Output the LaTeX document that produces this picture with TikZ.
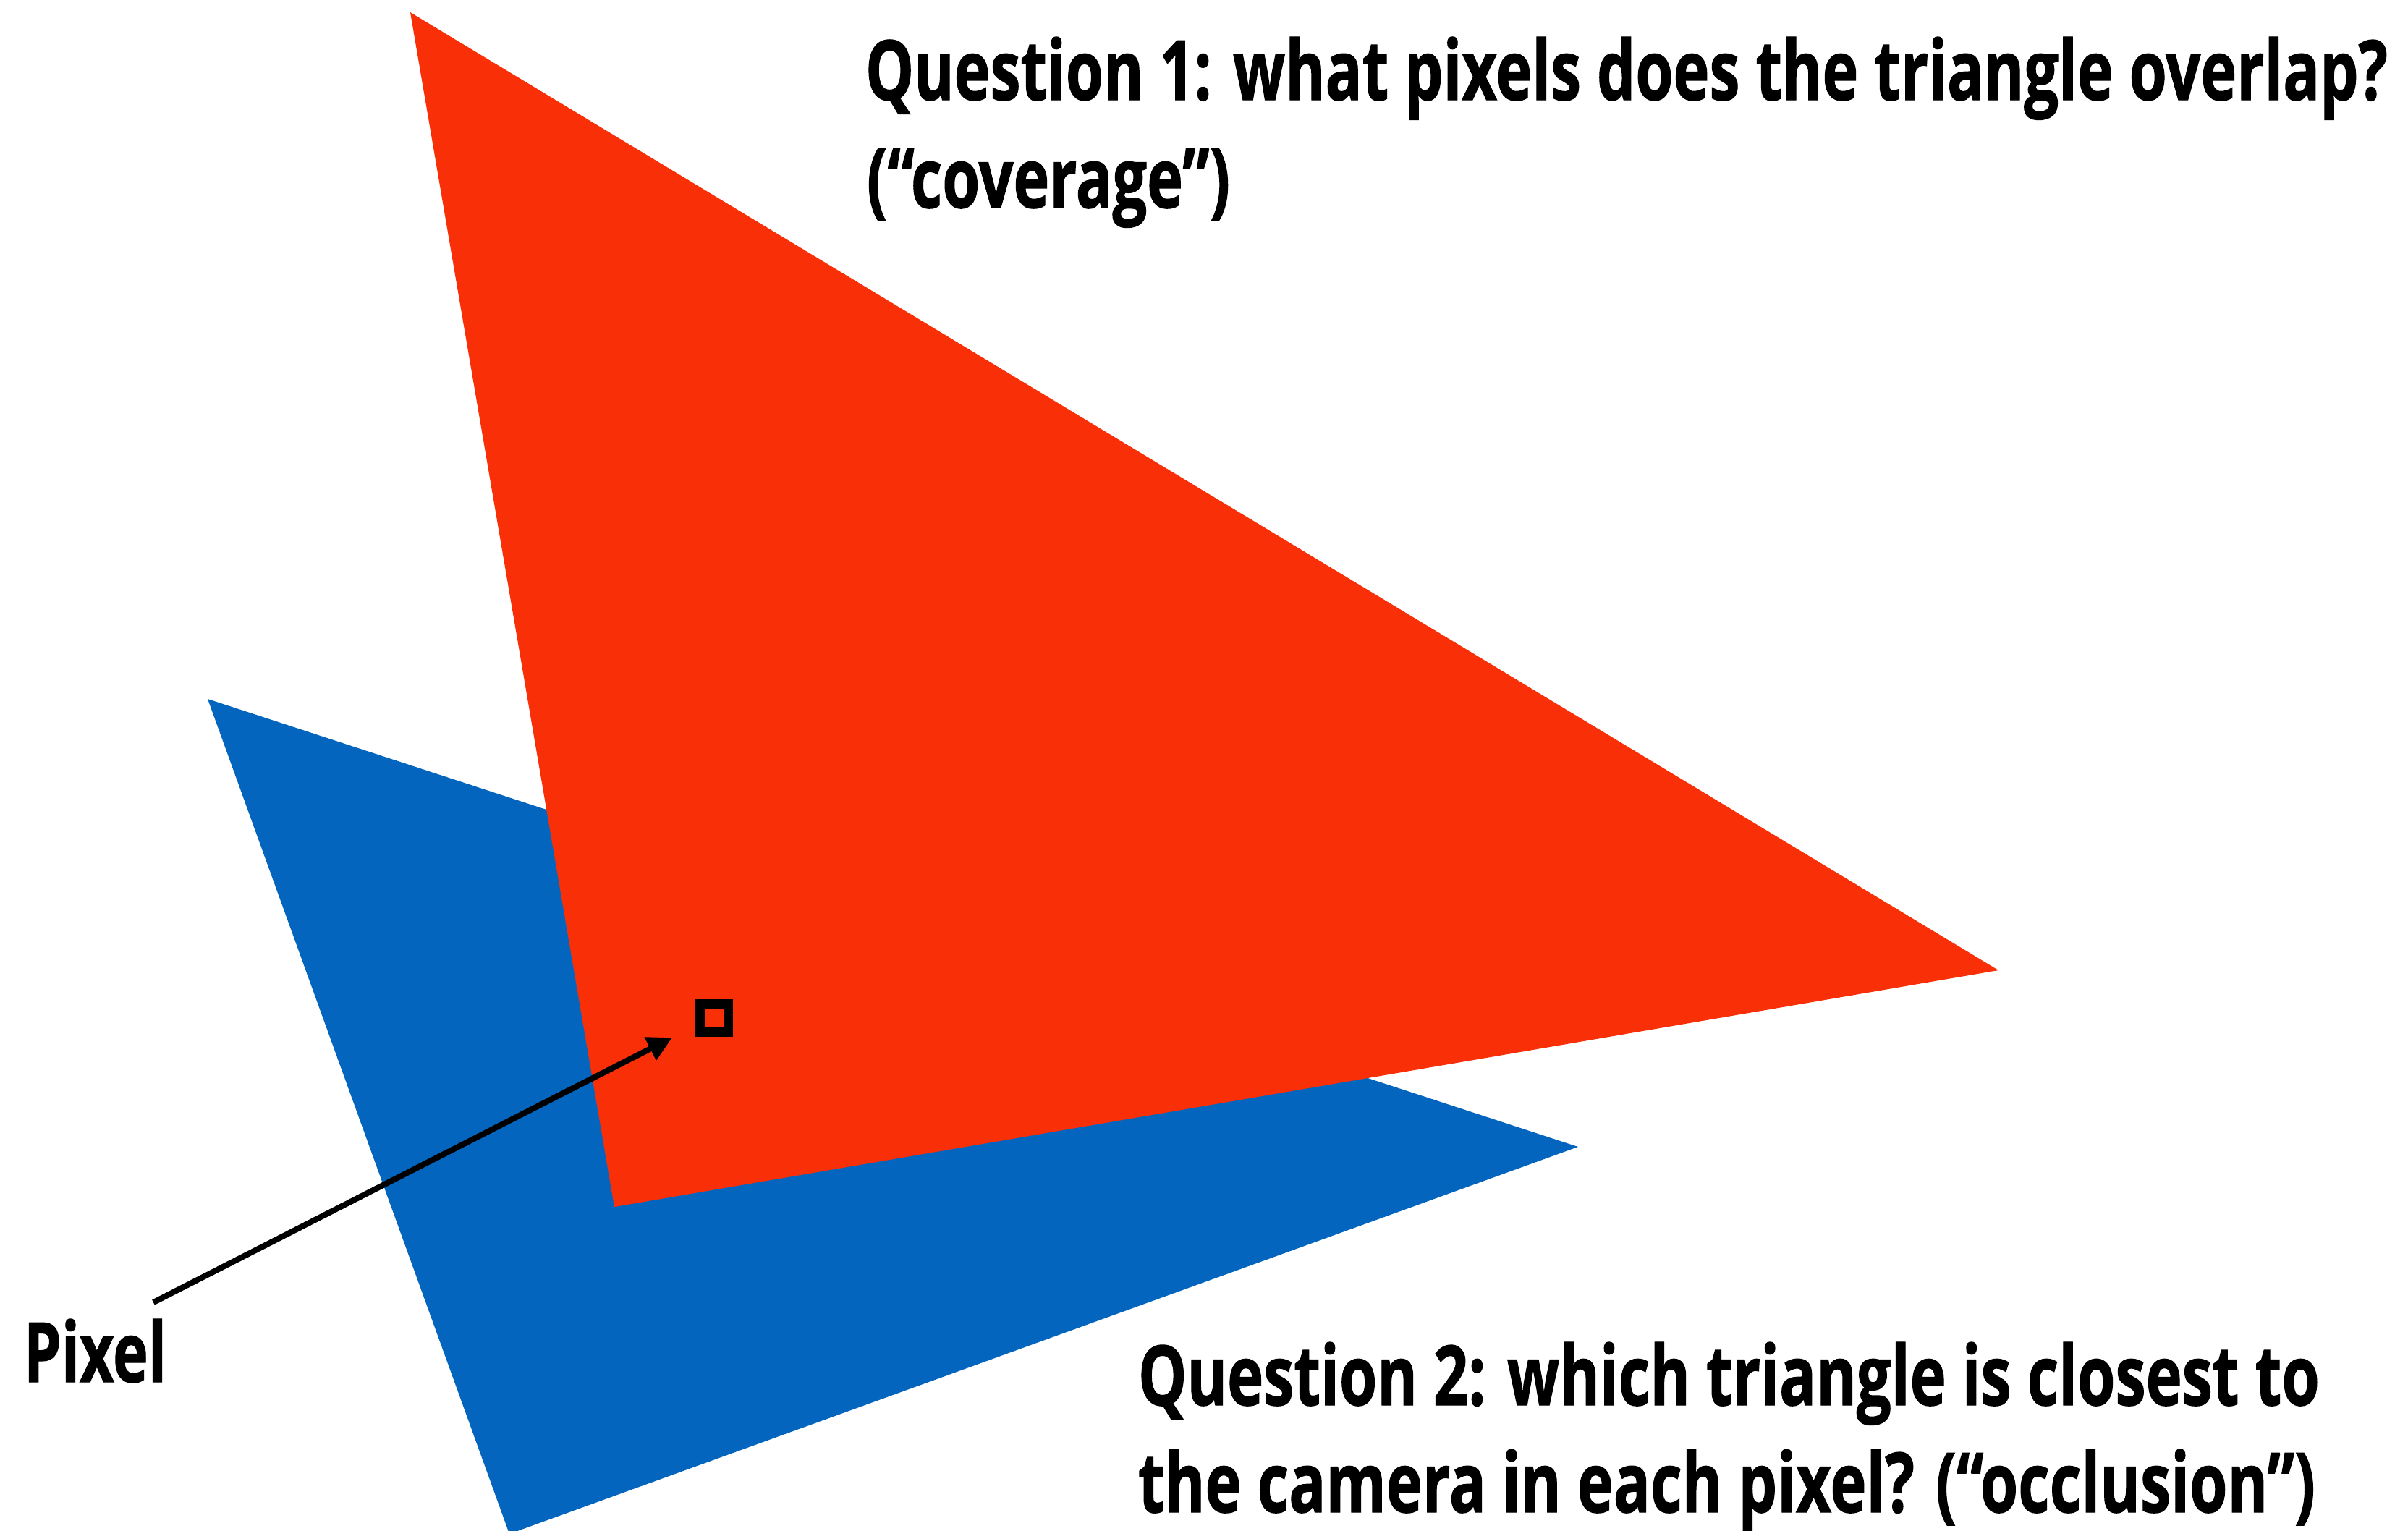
\documentclass[tikz,border=0pt]{standalone}
\usepackage{fontspec}
\setmainfont{Open Sans}[BoldFont={* Bold}, BoldFeatures={FakeBold=1.2}]
\usetikzlibrary{arrows.meta}
\definecolor{trired}{RGB}{249,47,8}
\definecolor{triblue}{RGB}{4,101,191}
\tikzset{
  lbl/.style={anchor=base west, inner sep=0pt, outer sep=0pt, font=\fontsize{32.6}{36}\selectfont\bfseries},
  pixbox/.style={draw=black, line width=0.13cm, minimum size=0.39cm, inner sep=0pt, fill=none},
  ptr/.style={draw=black, line width=0.08cm, -{Triangle[length=0.34cm, width=0.34cm]}}
}
\begin{document}
\begin{tikzpicture}[x=1cm,y=1cm]
\useasboundingbox (0,0) rectangle (33.28,-21.15);
% blue triangle
\fill[triblue] (2.87,-9.66) -- (21.81,-15.85) -- (7.04,-21.20) -- cycle;
% red triangle
\fill[trired] (5.67,-0.17) -- (27.62,-13.41) -- (8.49,-16.68) -- cycle;
% pixel
\node[pixbox] (pix) at (9.87,-14.07) {};
\coordinate (ptrstart) at (2.12,-18.00);
\coordinate (ptrend) at (9.29,-14.34);
\draw[ptr] (ptrstart) -- (ptrend);
% labels
\node[lbl] (q1a) at (11.96,-1.38) {\resizebox{21.04cm}{\height}{Question 1: what pixels does the triangle overlap?}};
\node[lbl] (q1b) at (11.98,-2.87) {\resizebox{5.02cm}{\height}{(“coverage”)}};
\node[lbl] (q2a) at (15.73,-19.42) {\resizebox{16.33cm}{\height}{Question 2: which triangle is closest to}};
\node[lbl] (q2b) at (15.73,-20.90) {\resizebox{16.27cm}{\height}{the camera in each pixel? (“occlusion”)}};
\node[lbl] (pixlbl) at (0.33,-19.10) {\resizebox{1.97cm}{\height}{Pixel}};
\end{tikzpicture}
\end{document}
